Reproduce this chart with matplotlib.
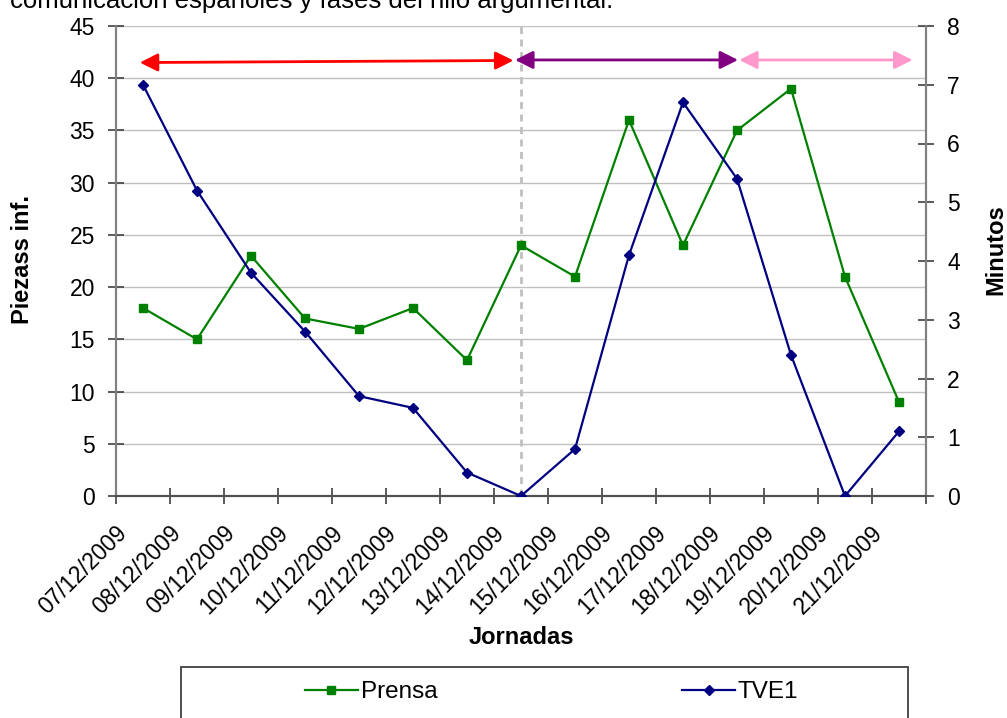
import matplotlib
matplotlib.use('Agg')
import matplotlib.pyplot as plt
import numpy as np
from matplotlib.transforms import ScaledTranslation
from matplotlib.patches import Rectangle

plt.rcParams['font.family'] = ['Liberation Sans', 'DejaVu Sans']

# ---- data ----
dates = ['07/12/2009', '08/12/2009', '09/12/2009', '10/12/2009', '11/12/2009',
         '12/12/2009', '13/12/2009', '14/12/2009', '15/12/2009', '16/12/2009',
         '17/12/2009', '18/12/2009', '19/12/2009', '20/12/2009', '21/12/2009']
prensa = [18, 15, 23, 17, 16, 18, 13, 24, 21, 36, 24, 35, 39, 21, 9]
tve1 = [7.0, 5.2, 3.8, 2.8, 1.7, 1.5, 0.4, 0.0, 0.8, 4.1, 6.7, 5.4, 2.4, 0.0, 1.1]
left_ticks = [0, 5, 10, 15, 20, 25, 30, 35, 40, 45]
right_ticks = [0, 1, 2, 3, 4, 5, 6, 7, 8]
caption = 'comunicación españoles y fases del hilo argumental.'

# phases of the argumental thread (x in category units, y in left-axis units)
phase_x = [(-0.06, 6.86), (6.89, 11.02), (11.04, 14.25)]
phase_y = [(41.5, 41.7), (41.75, 41.75), (41.75, 41.75)]
phase_colors = ['#ff0000', '#800080', '#ff99cc']
phase_split = 7

W, H = 1007, 718
fig = plt.figure(figsize=(W / 100, H / 100), dpi=100)
fig.patch.set_facecolor('white')

x0, x1, y0, y1 = 116, 926, 26, 496
ax = fig.add_axes([x0 / W, 1 - y1 / H, (x1 - x0) / W, (y1 - y0) / H])
ax2 = ax.twinx()

n = len(dates)
x = np.arange(n)

ax.set_xlim(-0.5, n - 0.5)
ax.set_ylim(0, 45)
ax2.set_ylim(0, 8)

ax.set_yticks(left_ticks)
ax2.set_yticks(right_ticks)
ax.yaxis.grid(True, color='#c0c0c0', lw=1.0)
ax.set_axisbelow(True)

tick_col = '#404040'
ax.tick_params(axis='y', direction='inout', length=11.5, width=1.2, color=tick_col,
               labelsize=16.5, pad=9.5)
ax2.tick_params(axis='y', direction='inout', length=11.5, width=1.2, color=tick_col,
                labelsize=16.5, pad=9.5)

ax.set_xticks(x)
ax.set_xticklabels(dates, rotation=45, ha='right', va='center', rotation_mode='anchor')
ax.set_xticks(np.arange(n + 1) - 0.5, minor=True)
ax.tick_params(axis='x', which='major', length=0, labelsize=16.5, pad=24)
ax.tick_params(axis='x', which='minor', direction='inout', length=11, width=1.2,
               color=tick_col)
offset = ScaledTranslation(-20 / 100, 0, fig.dpi_scale_trans)
for lbl in ax.get_xticklabels():
    lbl.set_transform(lbl.get_transform() + offset)

for a in (ax, ax2):
    a.spines['top'].set_visible(False)
    a.spines['left'].set_color('#808080')
    a.spines['right'].set_color('#808080')
    a.spines['bottom'].set_color('#505050')
    for s in ('left', 'right', 'bottom'):
        a.spines[s].set_linewidth(1.5)

# phase separator
ax.axvline(phase_split, color='#c0c0c0', lw=2, ls=(0, (2.5, 2)), zorder=1)

# series
l1, = ax.plot(x, prensa, color='#008000', lw=1.6, marker='s', ms=5.2,
              mec='#008000', mfc='#008000', zorder=3)
l2, = ax2.plot(x, tve1, color='#000080', lw=1.6, marker='D', ms=4.6,
               mec='#000080', mfc='#000080', zorder=3)

# phase arrows
for (xa, xb), (ya, yb), c in zip(phase_x, phase_y, phase_colors):
    ax.annotate('', xy=(xb, yb), xytext=(xa, ya),
                arrowprops=dict(arrowstyle='<|-|>,head_length=0.4,head_width=0.2',
                                color=c, lw=2, mutation_scale=27,
                                shrinkA=0, shrinkB=0), zorder=4)

# axis titles
fig.text(23 / W, 1 - 260 / H, 'Piezass inf.', rotation=90, ha='center', va='center',
         fontsize=17, fontweight='bold')
fig.text(996 / W, 1 - 250 / H, 'Minutos', rotation=90, ha='center', va='center',
         fontsize=17, fontweight='bold')
fig.text(521 / W, 1 - 637 / H, 'Jornadas', ha='center', va='center',
         fontsize=17, fontweight='bold')

# caption remnant at top (cut off by the top edge as in the source)
fig.text(613 / W, 1 - 8 / H, caption, ha='right', va='baseline', fontsize=18.5)

# legend box
rect = Rectangle((181 / W, -0.05), 727 / W, (718 - 667) / H + 0.05,
                 transform=fig.transFigure, fill=False, edgecolor='#404040', lw=1.3)
fig.add_artist(rect)
fig.legend([l1], ['Prensa'], loc='center', bbox_to_anchor=(371 / W, 1 - 692 / H),
           frameon=False, fontsize=17.5, handlelength=2.2, handletextpad=0.1)
fig.legend([l2], ['TVE1'], loc='center', bbox_to_anchor=(740 / W, 1 - 692 / H),
           frameon=False, fontsize=17.5, handlelength=2.2, handletextpad=0.1)

fig.savefig('out.png', dpi=100)
